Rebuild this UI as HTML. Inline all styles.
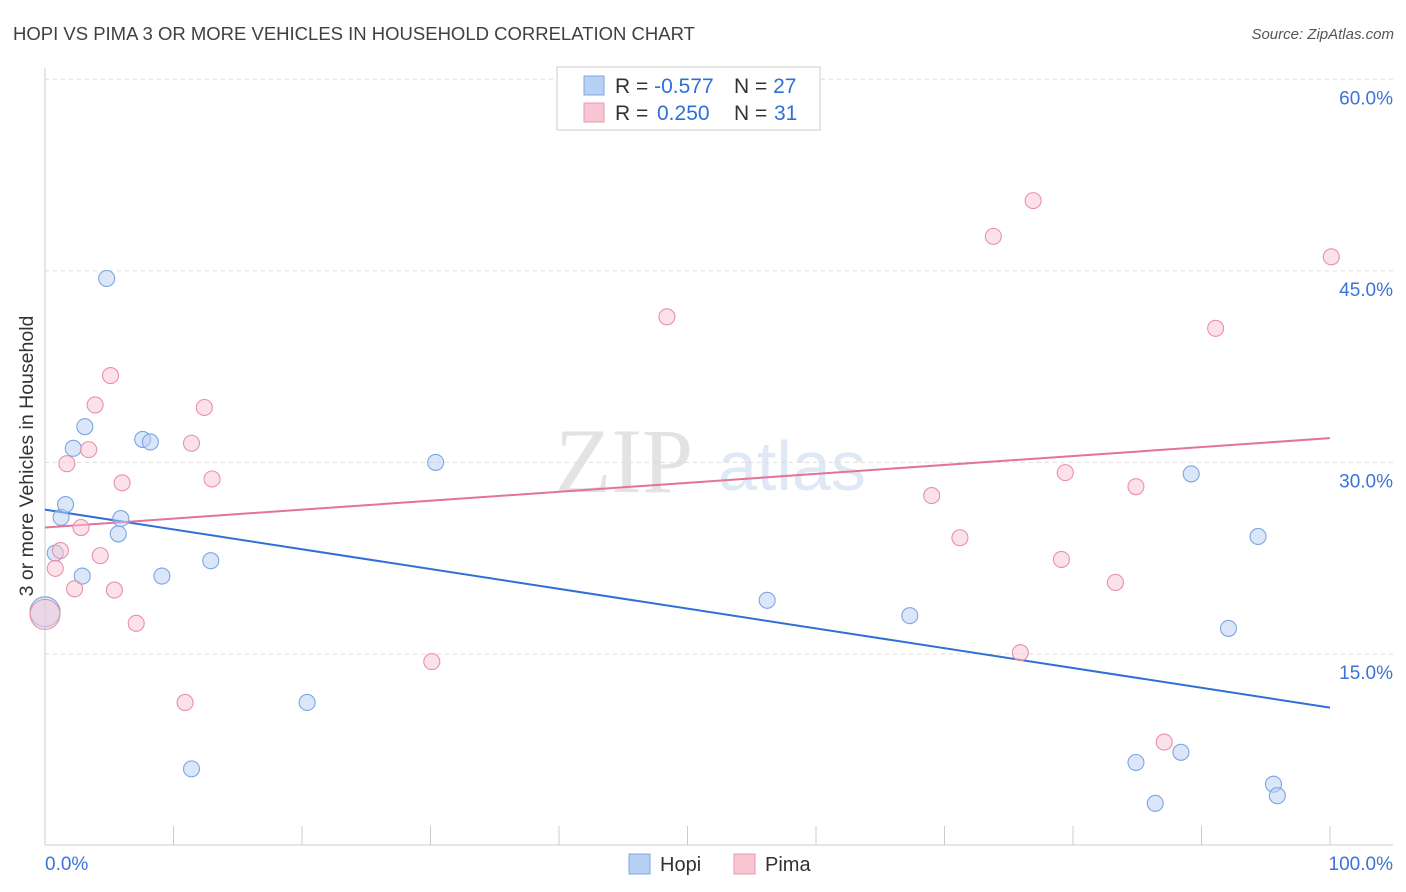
<!DOCTYPE html>
<html><head><meta charset="utf-8"><style>
body{margin:0;background:#fff;font-family:"Liberation Sans",sans-serif;}
svg{display:block}
</style></head><body>
<svg width="1406" height="892">
<text x="13" y="40" font-size="18.5" fill="#404040">HOPI VS PIMA 3 OR MORE VEHICLES IN HOUSEHOLD CORRELATION CHART</text>
<text x="1394" y="39" font-size="15" fill="#555" text-anchor="end" font-style="italic">Source: ZipAtlas.com</text>
<text x="555" y="492" font-size="92" fill="#e3e3e3" font-family="Liberation Serif,serif">ZIP</text>
<text x="718" y="490" font-size="70" fill="#dfe8f5">atlas</text>
<text transform="translate(33,456) rotate(-90)" font-size="19.5" fill="#333" text-anchor="middle">3 or more Vehicles in Household</text>
<g id="grid"></g><g id="axes"></g><g id="lines"></g><g id="pts"></g>
<g>
<rect x="557" y="67" width="263" height="63" fill="#fff" stroke="#ccc"/>
<rect x="584" y="76" width="20" height="19" fill="#b7d0f3" stroke="#7ea7e3"/>
<rect x="584" y="103" width="20" height="19" fill="#f8c6d3" stroke="#e99ab3"/>
<text x="615" y="93" font-size="21" fill="#333">R = <tspan fill="#2f6fd6">-0.577</tspan><tspan x="734">N = </tspan><tspan fill="#2f6fd6">27</tspan></text>
<text x="615" y="120" font-size="21" fill="#333">R = <tspan fill="#2f6fd6" x="657">0.250</tspan><tspan x="734">N = </tspan><tspan fill="#2f6fd6" x="774">31</tspan></text>
</g>
<g>
<rect x="629" y="854" width="21" height="20" fill="#b7d0f3" stroke="#7ea7e3"/>
<text x="660" y="871" font-size="20" fill="#333">Hopi</text>
<rect x="734" y="854" width="21" height="20" fill="#f8c6d3" stroke="#e99ab3"/>
<text x="765" y="871" font-size="20" fill="#333">Pima</text>
</g>
</svg>
<script>
const hopiX=[0,0.8,1.25,1.6,2.2,2.9,3.1,4.8,5.7,5.9,7.6,8.2,9.1,11.4,12.9,20.4,30.4,56.2,67.3,84.9,86.4,88.4,89.2,92.1,94.4,95.6,95.9];
const hopiY=[18.3,22.9,25.7,26.7,31.1,21.1,32.8,44.4,24.4,25.6,31.8,31.6,21.1,6.0,22.3,11.2,30.0,19.2,18.0,6.5,3.3,7.3,29.1,17.0,24.2,4.8,3.9];
const pimaX=[0,0.8,1.2,1.7,2.3,2.8,3.4,3.9,4.3,5.1,5.4,6.0,7.1,10.9,11.4,12.4,13.0,30.1,48.4,69.0,71.2,73.8,75.9,76.9,79.1,79.4,83.3,84.9,87.1,91.1,100.1];
const pimaY=[18.1,21.7,23.1,29.9,20.1,24.9,31.0,34.5,22.7,36.8,20.0,28.4,17.4,11.2,31.5,34.3,28.7,14.4,41.4,27.4,24.1,47.7,15.1,50.5,22.4,29.2,20.6,28.1,8.1,40.5,46.1];
const hopiTrend=[26.3,10.8];
const pimaTrend=[24.9,31.9];
const yTicks=[15,30,45,60];
const NS="http://www.w3.org/2000/svg";
const sx=v=>45+v*12.85, sy=v=>845.5-v*12.77;
function mk(t,a,p){const e=document.createElementNS(NS,t);for(const k in a)e.setAttribute(k,a[k]);document.getElementById(p).appendChild(e);return e;}
yTicks.forEach(t=>{
 const l=mk('line',{x1:45,x2:1393,y1:sy(t),y2:sy(t),stroke:'#ddd','stroke-dasharray':'4,4'},'grid');
 
 
 const tx=mk('text',{x:1393,y:sy(t)+25,'font-size':19,fill:'#3b73d8','text-anchor':'end'},'grid');
 tx.textContent=t.toFixed(1)+'%';
 
 
});
mk('line',{x1:45,x2:45,y1:68,y2:845,stroke:'#ccc'},'axes');
mk('line',{x1:45,x2:1393,y1:845,y2:845,stroke:'#ccc'},'axes');
for(let i=0;i<=10;i++){mk('line',{x1:sx(i*10),x2:sx(i*10),y1:826,y2:845,stroke:'#ccc'},'axes');}
let a=mk('text',{x:45,y:870,'font-size':19,fill:'#3b73d8'},'axes');a.textContent='0.0%';


a=mk('text',{x:1393,y:870,'font-size':19,fill:'#3b73d8','text-anchor':'end'},'axes');a.textContent='100.0%';


let tl=mk('line',{x1:sx(0),y1:sy(hopiTrend[0]),x2:sx(100),y2:sy(hopiTrend[1]),stroke:'#2f6fd6','stroke-width':2},'lines');


tl=mk('line',{x1:sx(0),y1:sy(pimaTrend[0]),x2:sx(100),y2:sy(pimaTrend[1]),stroke:'#e3739a','stroke-width':2},'lines');


function pts(X,Y,fill,stroke,name){X.forEach((x,i)=>{
 const c=mk('circle',{cx:sx(x),cy:sy(Y[i]),r:i==0?15:8,fill:fill,'fill-opacity':0.5,stroke:stroke,'stroke-width':1.1},'pts');
 
 
});}
pts(hopiX,hopiY,'#b7d0f3','#7aa6e3','hopi-point');
pts(pimaX,pimaY,'#f8c6d3','#e98fae','pima-point');
</script>
</body></html>
